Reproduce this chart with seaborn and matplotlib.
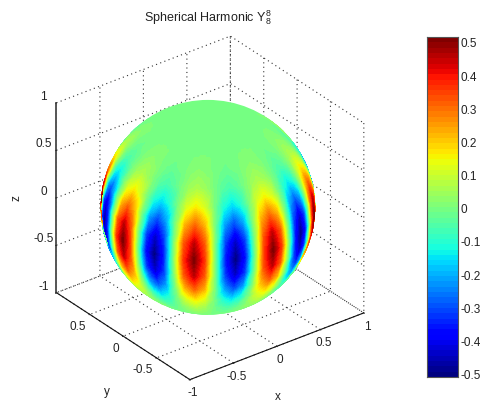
import numpy as np
import seaborn as sns
import matplotlib.pyplot as plt
import matplotlib.tri as mtri
from matplotlib.patches import Circle
from mpl_toolkits.mplot3d import proj3d

# sphere colours: rows are latitude, columns longitude
lat_deg = [60, 50, 40, 30, 20, 10, 0, -10, -20, -30, -40, -50, -60]
lon_deg = [-247.5 + 5.625 * i for i in range(44)]
surface_values = [
    [0.00] * 44,
    [-.02, -.01, 0, .01, .02, .01, 0, -.01,
     -.02, -.01, 0, .01, .02, .01, 0, -.01,
     -.02, -.01, 0, .01, .02, .01, 0, -.01,
     -.02, -.01, 0, .01, .02, .01, 0, -.01,
     -.02, -.01, 0, .01, .02, .01, 0, -.01,
     -.02, -.01, 0, .01],
    [-.06, -.04, 0, .04, .06, .04, 0, -.04,
     -.06, -.04, 0, .04, .06, .04, 0, -.04,
     -.06, -.04, 0, .04, .06, .04, 0, -.04,
     -.06, -.04, 0, .04, .06, .04, 0, -.04,
     -.06, -.04, 0, .04, .06, .04, 0, -.04,
     -.06, -.04, 0, .04],
    [-.16, -.11, 0, .11, .16, .11, 0, -.11,
     -.16, -.11, 0, .11, .16, .11, 0, -.11,
     -.16, -.11, 0, .11, .16, .11, 0, -.11,
     -.16, -.11, 0, .11, .16, .11, 0, -.11,
     -.16, -.11, 0, .11, .16, .11, 0, -.11,
     -.16, -.11, 0, .11],
    [-.31, -.22, 0, .22, .31, .22, 0, -.22,
     -.31, -.22, 0, .22, .31, .22, 0, -.22,
     -.31, -.22, 0, .22, .31, .22, 0, -.22,
     -.31, -.22, 0, .22, .31, .22, 0, -.22,
     -.31, -.22, 0, .22, .31, .22, 0, -.22,
     -.31, -.22, 0, .22],
    [-.45, -.32, 0, .32, .45, .32, 0, -.32,
     -.45, -.32, 0, .32, .45, .32, 0, -.32,
     -.45, -.32, 0, .32, .45, .32, 0, -.32,
     -.45, -.32, 0, .32, .45, .32, 0, -.32,
     -.45, -.32, 0, .32, .45, .32, 0, -.32,
     -.45, -.32, 0, .32],
    [-.51, -.36, 0, .36, .51, .36, 0, -.36,
     -.51, -.36, 0, .36, .51, .36, 0, -.36,
     -.51, -.36, 0, .36, .51, .36, 0, -.36,
     -.51, -.36, 0, .36, .51, .36, 0, -.36,
     -.51, -.36, 0, .36, .51, .36, 0, -.36,
     -.51, -.36, 0, .36],
    [-.45, -.32, 0, .32, .45, .32, 0, -.32,
     -.45, -.32, 0, .32, .45, .32, 0, -.32,
     -.45, -.32, 0, .32, .45, .32, 0, -.32,
     -.45, -.32, 0, .32, .45, .32, 0, -.32,
     -.45, -.32, 0, .32, .45, .32, 0, -.32,
     -.45, -.32, 0, .32],
    [-.31, -.22, 0, .22, .31, .22, 0, -.22,
     -.31, -.22, 0, .22, .31, .22, 0, -.22,
     -.31, -.22, 0, .22, .31, .22, 0, -.22,
     -.31, -.22, 0, .22, .31, .22, 0, -.22,
     -.31, -.22, 0, .22, .31, .22, 0, -.22,
     -.31, -.22, 0, .22],
    [-.16, -.11, 0, .11, .16, .11, 0, -.11,
     -.16, -.11, 0, .11, .16, .11, 0, -.11,
     -.16, -.11, 0, .11, .16, .11, 0, -.11,
     -.16, -.11, 0, .11, .16, .11, 0, -.11,
     -.16, -.11, 0, .11, .16, .11, 0, -.11,
     -.16, -.11, 0, .11],
    [-.06, -.04, 0, .04, .06, .04, 0, -.04,
     -.06, -.04, 0, .04, .06, .04, 0, -.04,
     -.06, -.04, 0, .04, .06, .04, 0, -.04,
     -.06, -.04, 0, .04, .06, .04, 0, -.04,
     -.06, -.04, 0, .04, .06, .04, 0, -.04,
     -.06, -.04, 0, .04],
    [-.02, -.01, 0, .01, .02, .01, 0, -.01,
     -.02, -.01, 0, .01, .02, .01, 0, -.01,
     -.02, -.01, 0, .01, .02, .01, 0, -.01,
     -.02, -.01, 0, .01, .02, .01, 0, -.01,
     -.02, -.01, 0, .01, .02, .01, 0, -.01,
     -.02, -.01, 0, .01],
    [0.00] * 44,
]
xyz_ticks = [-1, -0.5, 0, 0.5, 1]
xz_labels = ["-1", "-0.5", "0", "0.5", "1"]
y_labels = ["", "-0.5", "0", "0.5", ""]
cbar_ticks = [-0.5, -0.4, -0.3, -0.2, -0.1, 0, 0.1, 0.2, 0.3, 0.4, 0.5]
cbar_labels = ["-0.5", "-0.4", "-0.3", "-0.2", "-0.1", "0", "0.1", "0.2", "0.3", "0.4", "0.5"]
vmin, vmax = -0.51, 0.515
n_colors = 64
radius = 0.98
centre = (-0.01, 0.02, 0.0)
elev, azim = 30, -127.5

sns.set_style("white")
plt.rcParams["font.family"] = ["Liberation Sans", "DejaVu Sans"]
plt.rcParams["font.size"] = 8.5
plt.rcParams["grid.color"] = "#333333"
plt.rcParams["grid.linestyle"] = ":"
plt.rcParams["grid.linewidth"] = 0.8
plt.rcParams["mathtext.fontset"] = "custom"
plt.rcParams["mathtext.rm"] = "Liberation Sans"

W, H = 480, 402
fig = plt.figure(figsize=(W / 100, H / 100), dpi=100)
jet = plt.get_cmap("jet", n_colors)

# 3d box with the real axes
ax = fig.add_axes([15 / W, (H - 404) / H, 380 / W, 380 / H], projection="3d", proj_type="ortho")
ax.view_init(elev=elev, azim=azim)
ax.set_box_aspect((1, 1, 1), zoom=0.97)
ax.set_xlim(-1, 1, view_margin=0)
ax.set_ylim(-1, 1, view_margin=0)
ax.set_zlim(-1, 1, view_margin=0)
ax.patch.set_alpha(0)
for axis in (ax.xaxis, ax.yaxis, ax.zaxis):
    axis.set_pane_color((1, 1, 1, 0))
    axis.pane.set_edgecolor((1, 1, 1, 0))
    axis._axinfo["tick"]["inward_factor"] = 0.05
    axis._axinfo["tick"]["outward_factor"] = 0.0
    axis._axinfo["grid"]["linestyle"] = (0, (1, 3))
    axis.line.set_color("#111111")
    axis.line.set_linewidth(0.8)
ax.zaxis.line.set_color("#555555")
ax.zaxis.line.set_linewidth(1.4)
ax.set_xticks(xyz_ticks, xz_labels)
ax.set_yticks(xyz_ticks, y_labels)
ax.set_zticks(xyz_ticks, xz_labels)
ax.zaxis.set_ticks_position("upper")
ax.tick_params(axis="x", labelsize=8.5, pad=-4.5, colors="#222222")
ax.tick_params(axis="y", labelsize=8.5, pad=-5, colors="#222222")
ax.tick_params(axis="z", labelsize=8.5, pad=-2, colors="#222222")
plt.setp(ax.get_yticklabels(), ha="right")
plt.setp(ax.get_zticklabels(), va="bottom")

# put the sphere through the same projection as the box
fig.canvas.draw()
lon, lat = np.meshgrid(np.radians(lon_deg), np.radians(lat_deg))
vals = np.array(surface_values, dtype=float)
sx = centre[0] + radius * np.cos(lat) * np.cos(lon)
sy = centre[1] + radius * np.cos(lat) * np.sin(lon)
sz = centre[2] + radius * np.sin(lat)
px, py, depth = proj3d.proj_transform(sx.ravel(), sy.ravel(), sz.ravel(), ax.get_proj())
disp = ax.transData.transform(np.column_stack([px, py]))

view = np.array([np.cos(np.radians(elev)) * np.cos(np.radians(azim)),
                 np.cos(np.radians(elev)) * np.sin(np.radians(azim)),
                 np.sin(np.radians(elev))])
facing = (np.cos(lat) * np.cos(lon) * view[0] + np.cos(lat) * np.sin(lon) * view[1] + np.sin(lat) * view[2]).ravel()

rows, cols = vals.shape
triangles = []
for r in range(rows - 1):
    for c in range(cols - 1):
        a, b, d, e = r * cols + c, r * cols + c + 1, (r + 1) * cols + c, (r + 1) * cols + c + 1
        for t in ([a, b, d], [b, e, d]):
            if facing[t].max() > 0:
                triangles.append(t)

over = fig.add_axes([0, 0, 1, 1], facecolor="none")
over.set_xlim(0, W)
over.set_ylim(0, H)
over.axis("off")
tri = mtri.Triangulation(disp[:, 0], disp[:, 1], triangles=np.array(triangles))

c0 = ax.transData.transform(proj3d.proj_transform(centre[0], centre[1], centre[2], ax.get_proj())[:2])
edge = ax.transData.transform(proj3d.proj_transform(centre[0], centre[1], centre[2] + radius, ax.get_proj())[:2])
r_px = np.hypot(*(edge - c0)) / np.cos(np.radians(elev))
levels = np.linspace(vmin, vmax, n_colors + 1)
# zero coloured disk, the value table stops at 60 degrees
disk = Circle(c0, r_px, facecolor=jet((0 - vmin) / (vmax - vmin)), edgecolor="none", zorder=1)
over.add_patch(disk)
cs = over.tricontourf(tri, vals.ravel(), levels=levels, cmap=jet, zorder=2)
clip = Circle(c0, r_px, transform=over.transData)
cs.set_clip_path(clip)

# colorbar as a one column heatmap
cax = fig.add_axes([427 / W, (H - 378) / H, 31 / W, 340 / H])
bar_levels = (levels[:-1] + levels[1:])[::-1].reshape(-1, 1) / 2
sns.heatmap(bar_levels, cmap=jet, vmin=vmin, vmax=vmax, cbar=False, ax=cax, xticklabels=False)
cax.set_yticks([(vmax - v) / (vmax - vmin) * n_colors for v in cbar_ticks], cbar_labels, rotation=0)
cax.tick_params(axis="y", direction="in", left=True, right=True, labelleft=False, labelright=True,
                length=3, width=0.6, pad=2, labelsize=8.5, colors="#222222")
for s in cax.spines.values():
    s.set_visible(True)
    s.set_color("#555555")
    s.set_linewidth(0.8)

fig.text(208 / W, (H - 18) / H, r"Spherical Harmonic $\mathregular{Y_8^8}$", ha="center", va="center", fontsize=9, color="#222222")
fig.text(278 / W, (H - 397) / H, "x", ha="center", va="center", fontsize=8.5, color="#222222")
fig.text(107 / W, (H - 392) / H, "y", ha="center", va="center", fontsize=8.5, color="#222222")
fig.text(17 / W, (H - 198) / H, "z", ha="center", va="center", rotation=90, fontsize=8.5, color="#222222")

plt.savefig("out.png", dpi=100)
plt.close()
